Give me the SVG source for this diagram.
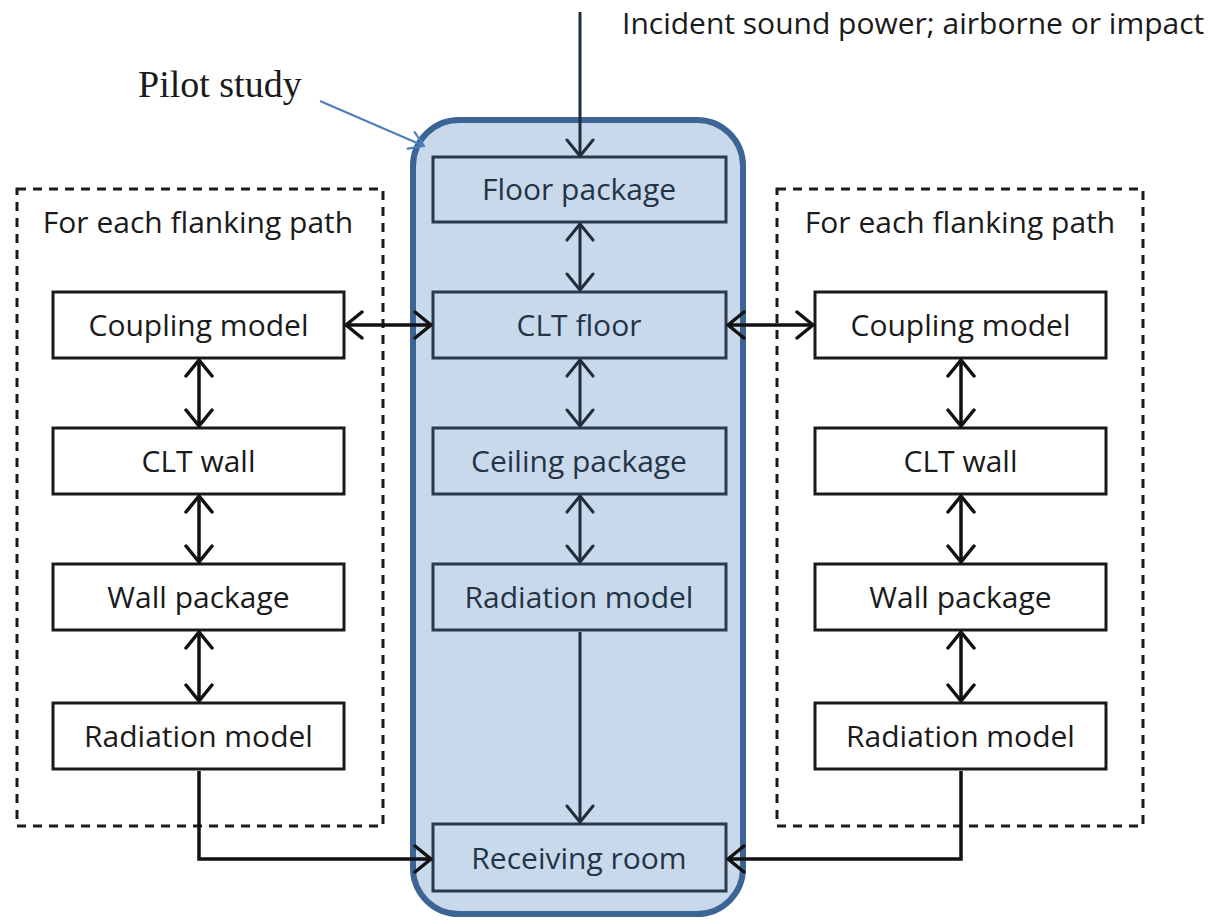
<svg xmlns="http://www.w3.org/2000/svg" width="1217" height="920" viewBox="0 0 1217 920">
<defs>
<style>
.side rect{fill:#fff;stroke:#1a1a1a;stroke-width:3}
.side text{font-family:"Open Sans","Liberation Sans",sans-serif;font-size:30px;fill:#1a1a1a;text-anchor:middle}
.core rect{fill:#c9d9ec;stroke:#2a3a4c;stroke-width:3}
.core text{font-family:"Open Sans","Liberation Sans",sans-serif;font-size:30px;fill:#243446;text-anchor:middle}
.frame{fill:none;stroke:#1a1a1a;stroke-width:3;stroke-dasharray:9 7}
.lbl{font-family:"Open Sans","Liberation Sans",sans-serif;font-size:30px;fill:#1a1a1a}
.k{fill:none;stroke:#111;stroke-width:3.5}
.n{fill:none;stroke:#1f2d3e;stroke-width:3}
</style>
<marker id="ak" viewBox="-19 -15 22 30" refX="0" refY="0" markerWidth="22" markerHeight="30" markerUnits="userSpaceOnUse" orient="auto-start-reverse">
<path d="M-16,-13 L0,0 L-16,13" fill="none" stroke="#111" stroke-width="3.5" stroke-linejoin="round" stroke-linecap="round"/>
</marker>
<marker id="an" viewBox="-19 -15 22 30" refX="0" refY="0" markerWidth="22" markerHeight="30" markerUnits="userSpaceOnUse" orient="auto-start-reverse">
<path d="M-16,-13 L0,0 L-16,13" fill="none" stroke="#1f2d3e" stroke-width="3" stroke-linejoin="round" stroke-linecap="round"/>
</marker>
<marker id="ab" viewBox="-17 -14 20 28" refX="0" refY="0" markerWidth="20" markerHeight="28" markerUnits="userSpaceOnUse" orient="auto">
<path d="M-14,-9 L0,0 L-14,9" fill="none" stroke="#4f7fb8" stroke-width="2.2" stroke-linejoin="round" stroke-linecap="round"/>
</marker>
</defs>
<rect width="1217" height="920" fill="#fff"/>

<g id="pilot-study">
<rect x="413" y="120" width="330" height="794" rx="46" ry="46" fill="#c9d9ec" stroke="#3c6595" stroke-width="6"/>
<text x="138" y="97" font-family="'Liberation Serif','Times New Roman',serif" font-size="38" fill="#1a1a1a">Pilot study</text>
</g>

<g id="frame-left"><rect class="frame" x="17" y="189" width="366" height="637"/>
<text class="lbl" x="198" y="233" text-anchor="middle" font-size="29">For each flanking path</text></g>
<g id="frame-right"><rect class="frame" x="777" y="189" width="366" height="637"/>
<text class="lbl" x="960" y="233" text-anchor="middle" font-size="29">For each flanking path</text></g>

<g id="incident-label"><text class="lbl" x="622" y="34" font-size="30.3">Incident sound power; airborne or impact</text></g>

<g class="core">
<g id="floor-package"><rect x="433" y="157" width="293" height="65"/><text x="579" y="200">Floor package</text></g>
<g id="clt-floor"><rect x="433" y="292" width="293" height="66"/><text x="579" y="336">CLT floor</text></g>
<g id="ceiling-package"><rect x="433" y="428" width="293" height="66"/><text x="579" y="472">Ceiling package</text></g>
<g id="radiation-model-c"><rect x="433" y="564" width="293" height="66"/><text x="579" y="608">Radiation model</text></g>
<g id="receiving-room"><rect x="433" y="824" width="293" height="67"/><text x="579" y="869">Receiving room</text></g>
</g>

<g class="side">
<g id="coupling-model-l"><rect x="53" y="292" width="291" height="66"/><text x="198.5" y="336">Coupling model</text></g>
<g id="clt-wall-l"><rect x="53" y="428" width="291" height="66"/><text x="198.5" y="472">CLT wall</text></g>
<g id="wall-package-l"><rect x="53" y="564" width="291" height="66"/><text x="198.5" y="608">Wall package</text></g>
<g id="radiation-model-l"><rect x="53" y="703" width="291" height="66"/><text x="198.5" y="747">Radiation model</text></g>
<g id="coupling-model-r"><rect x="815" y="292" width="291" height="66"/><text x="960.5" y="336">Coupling model</text></g>
<g id="clt-wall-r"><rect x="815" y="428" width="291" height="66"/><text x="960.5" y="472">CLT wall</text></g>
<g id="wall-package-r"><rect x="815" y="564" width="291" height="66"/><text x="960.5" y="608">Wall package</text></g>
<g id="radiation-model-r"><rect x="815" y="703" width="291" height="66"/><text x="960.5" y="747">Radiation model</text></g>
</g>

<g id="connectors">
<line class="n" x1="580" y1="12" x2="580" y2="156" marker-end="url(#an)"/>
<line class="n" x1="580" y1="224" x2="580" y2="290" marker-start="url(#an)" marker-end="url(#an)"/>
<line class="n" x1="580" y1="360" x2="580" y2="426" marker-start="url(#an)" marker-end="url(#an)"/>
<line class="n" x1="580" y1="496" x2="580" y2="562" marker-start="url(#an)" marker-end="url(#an)"/>
<line class="n" x1="580" y1="632" x2="580" y2="822" stroke-width="2.5" marker-end="url(#an)"/>

<line class="k" x1="346" y1="325" x2="431" y2="325" marker-start="url(#ak)" marker-end="url(#ak)"/>
<line class="k" x1="728" y1="325" x2="813" y2="325" marker-start="url(#ak)" marker-end="url(#ak)"/>

<line class="k" x1="199" y1="360" x2="199" y2="426" marker-start="url(#ak)" marker-end="url(#ak)"/>
<line class="k" x1="199" y1="496" x2="199" y2="562" marker-start="url(#ak)" marker-end="url(#ak)"/>
<line class="k" x1="199" y1="632" x2="199" y2="701" marker-start="url(#ak)" marker-end="url(#ak)"/>
<line class="k" x1="961" y1="360" x2="961" y2="426" marker-start="url(#ak)" marker-end="url(#ak)"/>
<line class="k" x1="961" y1="496" x2="961" y2="562" marker-start="url(#ak)" marker-end="url(#ak)"/>
<line class="k" x1="961" y1="632" x2="961" y2="701" marker-start="url(#ak)" marker-end="url(#ak)"/>

<polyline class="k" points="199,771 199,859 431,859" marker-end="url(#ak)"/>
<polyline class="k" points="961,771 961,859 728,859" marker-end="url(#ak)"/>

<line x1="320" y1="101" x2="424" y2="146" stroke="#4f7fb8" stroke-width="2.2" marker-end="url(#ab)"/>
</g>
</svg>
